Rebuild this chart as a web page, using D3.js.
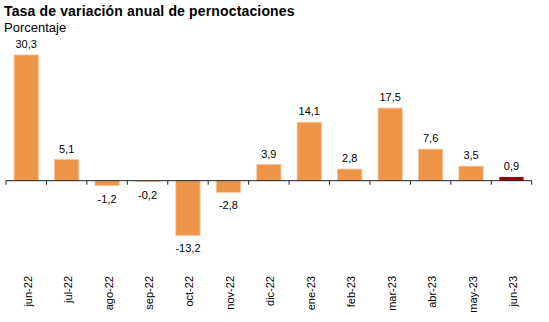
<!DOCTYPE html>
<html>
<head>
<meta charset="utf-8">
<script src="https://cdn.jsdelivr.net/npm/d3@7"></script>
<style>
  body { margin: 0; background: #fff; }
  svg { display: block; font-family: Arial, "Liberation Sans", sans-serif; }
</style>
</head>
<body>
<div id="chart"></div>
<script>
// ---- data ----
let months = ['jun-22', 'jul-22', 'ago-22', 'sep-22', 'oct-22', 'nov-22', 'dic-22',
  'ene-23', 'feb-23', 'mar-23', 'abr-23', 'may-23', 'jun-23'];
let values = [30.3, 5.1, -1.2, -0.2, -13.2, -2.8, 3.9, 14.1, 2.8, 17.5, 7.6, 3.5, 0.9];
let labels = ['30,3', '5,1', '-1,2', '-0,2', '-13,2', '-2,8', '3,9', '14,1', '2,8', '17,5', '7,6', '3,5', '0,9'];

// ---- settings ----
let img_width = 549;
let img_height = 322;
let bar_color = '#ee9549';
let last_color = '#8b0a0a';
let text_color = '#000';

let data = months.map((m, i) => ({ month: m, value: values[i], label: labels[i] }));

let svg = d3.select('#chart').append('svg')
  .attr('width', img_width)
  .attr('height', img_height);

svg.append('text')
  .attr('x', 4).attr('y', 16)
  .attr('font-size', '14px').attr('font-weight', 'bold')
  .attr('letter-spacing', '0.15px')
  .attr('fill', text_color)
  .text('Tasa de variación anual de pernoctaciones');

svg.append('text')
  .attr('x', 4).attr('y', 32)
  .attr('font-size', '13px')
  .attr('fill', text_color)
  .text('Porcentaje');

let x = d3.scaleBand()
  .domain(months)
  .range([6, 531.7])
  .paddingInner(0.4)
  .paddingOuter(0.2);

// 0 at y=180.7, ~4.15 px per unit
let y = d3.scaleLinear()
  .domain([-15, 35])
  .range([180.7 + 15 * 4.15, 180.7 - 35 * 4.15]);

svg.append('g')
  .selectAll('rect')
  .data(data)
  .enter()
  .append('rect')
  .attr('x', d => x(d.month))
  .attr('width', x.bandwidth())
  .attr('y', d => y(Math.max(0, d.value)))
  .attr('height', d => Math.abs(y(d.value) - y(0)))
  .attr('fill', (d, i) => i === data.length - 1 ? last_color : bar_color)
  .attr('stroke', (d, i) => i === data.length - 1 ? 'none' : '#f7c59c')
  .attr('stroke-width', 0.8);

svg.append('g')
  .selectAll('text')
  .data(data)
  .enter()
  .append('text')
  .attr('x', d => x(d.month) + x.bandwidth() / 2)
  .attr('y', d => d.value >= 0 ? y(d.value) - 7 : y(d.value) + 17)
  .attr('text-anchor', 'middle')
  .attr('font-size', '11px')
  .attr('fill', text_color)
  .text(d => d.label);

// axis: ticks at band boundaries
let edges = d3.range(months.length + 1).map(i => 6 + i * (531.7 - 6) / months.length);
let axis = svg.append('g');
axis.append('line')
  .attr('x1', 6).attr('x2', 531.7)
  .attr('y1', y(0)).attr('y2', y(0))
  .attr('stroke', '#222').attr('stroke-width', 1);
axis.selectAll('.tick')
  .data(edges)
  .enter()
  .append('line')
  .attr('x1', d => d).attr('x2', d => d)
  .attr('y1', y(0)).attr('y2', y(0) + 4)
  .attr('stroke', '#222').attr('stroke-width', 1);

svg.append('g')
  .selectAll('text')
  .data(months)
  .enter()
  .append('text')
  .attr('transform', d => `translate(${x(d) + x.bandwidth() / 2 + 5.5},276) rotate(-90)`)
  .attr('text-anchor', 'end')
  .attr('font-size', '11px')
  .attr('fill', text_color)
  .text(d => d);
</script>
</body>
</html>
